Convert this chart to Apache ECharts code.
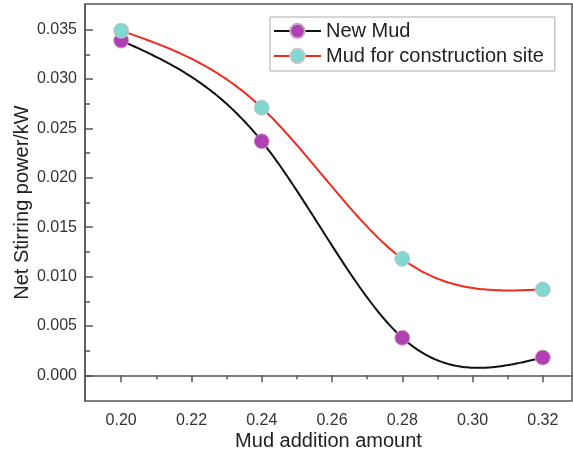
<!DOCTYPE html>
<html><head><meta charset="utf-8">
<script src="https://cdn.jsdelivr.net/npm/echarts@6/dist/echarts.min.js"></script>
<style>html,body{margin:0;padding:0;background:#fff}#c{width:573px;height:463px}</style>
</head><body><div id="c"></div>
<script>
const xValues = [0.20, 0.24, 0.28, 0.32];
const newMud = [0.0339, 0.0237, 0.0038, 0.0018];
const siteMud = [0.0349, 0.0271, 0.0118, 0.0087];
const seriesNames = ['New Mud', 'Mud for construction site'];
const xTicks = [0.20, 0.22, 0.24, 0.26, 0.28, 0.30, 0.32];
const xMinorTicks = [0.21, 0.23, 0.25, 0.27, 0.29, 0.31];
const yTicks = [0, 0.005, 0.010, 0.015, 0.020, 0.025, 0.030, 0.035];
const yMinorTicks = [0.0025, 0.0075, 0.0125, 0.0175, 0.0225, 0.0275, 0.0325];

const FONT = 'Liberation Sans, Arial, sans-serif';
const axisColor = '#555';
const xMin = 0.1897, xMax = 0.3283, yMin = -0.0026, yMax = 0.0376;

// natural cubic spline through the data points (the original plot's smoothing), rendered via the axes
function naturalSpline(xs, ys) {
  const n = xs.length, h = [], M = new Array(n).fill(0);
  for (let i = 0; i < n - 1; i++) h.push(xs[i + 1] - xs[i]);
  const A = [], B = [], C = [], R = [];
  for (let i = 1; i < n - 1; i++) {
    A.push(h[i - 1]); B.push(2 * (h[i - 1] + h[i])); C.push(h[i]);
    R.push(6 * ((ys[i + 1] - ys[i]) / h[i] - (ys[i] - ys[i - 1]) / h[i - 1]));
  }
  const m = R.length;
  for (let i = 1; i < m; i++) { const w = A[i] / B[i - 1]; B[i] -= w * C[i - 1]; R[i] -= w * R[i - 1]; }
  const sol = new Array(m);
  for (let i = m - 1; i >= 0; i--) sol[i] = (R[i] - (i < m - 1 ? C[i] * sol[i + 1] : 0)) / B[i];
  for (let i = 0; i < m; i++) M[i + 1] = sol[i];
  return function (x) {
    let i = 0;
    while (i < n - 2 && x > xs[i + 1]) i++;
    const hi = h[i], t1 = xs[i + 1] - x, t0 = x - xs[i];
    return M[i] * t1 * t1 * t1 / (6 * hi) + M[i + 1] * t0 * t0 * t0 / (6 * hi)
      + (ys[i] / hi - M[i] * hi / 6) * t1 + (ys[i + 1] / hi - M[i + 1] * hi / 6) * t0;
  };
}

function curveSeries(name, ys, color) {
  const f = naturalSpline(xValues, ys);
  return {
    name: name, type: 'custom', coordinateSystem: 'cartesian2d', silent: true,
    data: xValues.map((x, i) => [x, ys[i]]),
    renderItem: function (params, api) {
      if (params.dataIndex !== 0) return null;
      const x0 = xValues[0], x1 = xValues[xValues.length - 1], N = 200, pts = [];
      for (let k = 0; k <= N; k++) { const x = x0 + (x1 - x0) * k / N; pts.push(api.coord([x, f(x)])); }
      return { type: 'polyline', shape: { points: pts }, style: { stroke: color, lineWidth: 2, fill: null } };
    }
  };
}

const chart = echarts.init(document.getElementById('c'));
chart.setOption({
  animation: false,
  backgroundColor: '#fff',
  grid: { left: 85, top: 4, right: 1, bottom: 62, show: true, borderColor: axisColor, borderWidth: 1.5, backgroundColor: 'transparent', outerBoundsMode: 'none', containLabel: false },
  legend: {
    left: 270, top: 17, orient: 'vertical',
    itemWidth: 47, itemHeight: 18, itemGap: 5,
    padding: [4, 11, 5, 3],
    borderColor: '#aaa', borderWidth: 1,
    textStyle: { fontFamily: FONT, fontSize: 20, color: '#222' },
    data: [
      { name: seriesNames[0], lineStyle: { color: '#111', width: 2, opacity: 1 } },
      { name: seriesNames[1], lineStyle: { color: '#ef2b1e', width: 2, opacity: 1 } }
    ]
  },
  xAxis: [{
    type: 'value', min: xMin, max: xMax,
    name: 'Mud addition amount', nameLocation: 'middle', nameGap: 30, nameMoveOverlap: false,
    nameTextStyle: { fontFamily: FONT, fontSize: 20, color: '#222' },
    axisLine: { lineStyle: { color: axisColor, width: 1.5 } },
    axisTick: { show: true, inside: false, length: 7, customValues: xTicks, lineStyle: { color: axisColor, width: 1.5 } },
    axisLabel: { customValues: xTicks, fontFamily: FONT, fontSize: 16, color: '#333', margin: 12, formatter: v => v.toFixed(2) },
    splitLine: { show: false }
  }, {
    type: 'value', min: xMin, max: xMax, position: 'bottom', offset: 0,
    axisLine: { show: false },
    axisTick: { show: true, inside: false, length: 4, customValues: xMinorTicks, lineStyle: { color: axisColor, width: 1.5 } },
    axisLabel: { show: false }, splitLine: { show: false }
  }],
  yAxis: [{
    type: 'value', min: yMin, max: yMax,
    name: 'Net Stirring power/kW', nameLocation: 'middle', nameGap: 53, nameRotate: 90, nameMoveOverlap: false,
    nameTextStyle: { fontFamily: FONT, fontSize: 20, color: '#222' },
    axisLine: { show: true, lineStyle: { color: axisColor, width: 1.5 } },
    axisTick: { show: true, inside: true, length: 8, customValues: yTicks, lineStyle: { color: axisColor, width: 1.5 } },
    axisLabel: { customValues: yTicks, fontFamily: FONT, fontSize: 16, color: '#333', margin: 8, formatter: v => v.toFixed(3) },
    splitLine: { show: false }
  }, {
    type: 'value', min: yMin, max: yMax, position: 'left', offset: 0,
    axisLine: { show: false },
    axisTick: { show: true, inside: true, length: 5, customValues: yMinorTicks, lineStyle: { color: axisColor, width: 1.5 } },
    axisLabel: { show: false }, splitLine: { show: false }
  }],
  series: [
    curveSeries(seriesNames[0] + ' curve', newMud, '#111'),
    curveSeries(seriesNames[1] + ' curve', siteMud, '#ef2b1e'),
    {
      name: seriesNames[0], type: 'line',
      data: xValues.map((x, i) => [x, newMud[i]]),
      symbol: 'circle', symbolSize: 15,
      lineStyle: { color: '#111', width: 2, opacity: 0 },
      itemStyle: { color: '#b03fb3', borderColor: '#c9a9c9', borderWidth: 1 }
    }, {
      name: seriesNames[1], type: 'line',
      data: xValues.map((x, i) => [x, siteMud[i]]),
      symbol: 'circle', symbolSize: 15,
      lineStyle: { color: '#ef2b1e', width: 2, opacity: 0 },
      itemStyle: { color: '#80d8d0', borderColor: '#c8c8c8', borderWidth: 1 }
    }]
});
</script></body></html>
